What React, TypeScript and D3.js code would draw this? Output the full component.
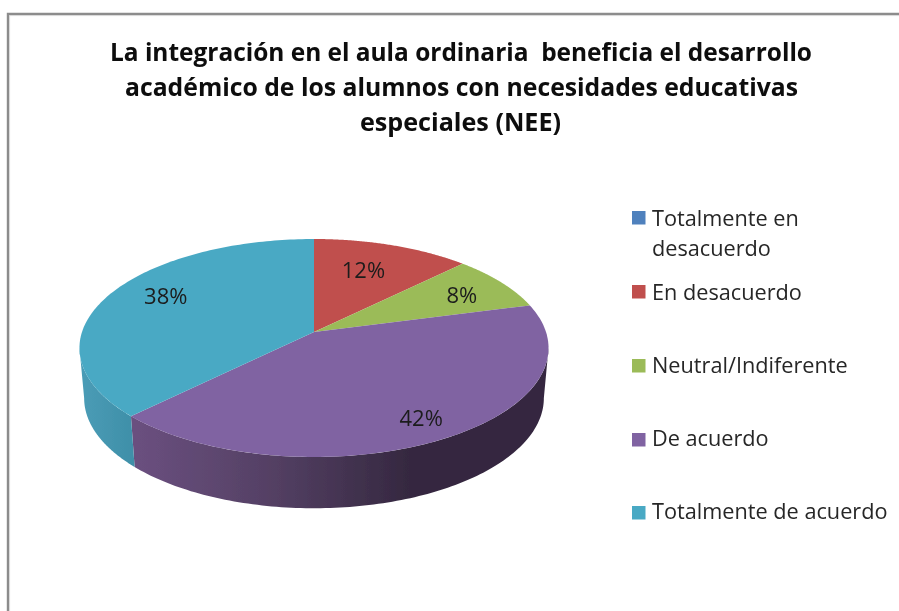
import React from "react";
import * as d3 from "d3";

const categories = ["Totalmente en desacuerdo", "En desacuerdo", "Neutral/Indiferente", "De acuerdo", "Totalmente de acuerdo"];
const responses = [0, 3, 2, 10, 9];
const percentLabels = ["", "12%", "8%", "42%", "38%"];
const colors = ["#4f81bd", "#c0504d", "#9bbb59", "#8064a2", "#4aa9c4"];
const titleLines = [
  "La integración en el aula ordinaria  beneficia el desarrollo",
  "académico de los alumnos con necesidades educativas",
  "especiales (NEE)",
];
const legendLines = [["Totalmente en", "desacuerdo"], ["En desacuerdo"], ["Neutral/Indiferente"], ["De acuerdo"], ["Totalmente de acuerdo"]];

// layout
const W = 899, H = 611;
const cx = 314, cy = 332, k = -0.1468, a = 232, b = 106.65;
const wallDy = 50, wallSx = 0.98, wallSy = 1.01;
const labelRadius = 0.75;
const labelNudge: [number, number][] = [[0, 0], [-11, 5], [5, 1], [11, 10], [6, -7]];
const titleSpans = [[110, 812], [125, 798], [360, 561]];
const titleBase = [61, 96, 131];
const legendBase = [226, 300, 373, 446, 519];
const legendSwatch = [211, 285, 359, 433, 506];

const project = (theta: number, r = 1, sx = 1, sy = 1, dy = 0): [number, number] => {
  const u = r * Math.sin(theta), v = -r * Math.cos(theta);
  const w = 1 + k * v;
  return [cx + (sx * a * u) / w, cy + dy + (sy * b * v) / w];
};

const thetas = (s: number, e: number) => d3.range(0, 121).map((i) => s + ((e - s) * i) / 120);

// The angles at which the disc's outline is vertical: only the wall between them faces the viewer.
const silhouetteStart = Math.acos(k);
const silhouetteEnd = 2 * Math.PI - silhouetteStart;

export default function App() {
  const pie = d3.pie<number>().sort(null).value((d) => d);
  const arcs = pie(responses);
  const line = d3.line();

  const top = (s: number, e: number) =>
    line([[cx, cy], ...thetas(s, e).map((t) => project(t))])! + "Z";
  const wall = (s0: number, e0: number) => {
    const s = Math.max(s0, silhouetteStart), e = Math.min(e0, silhouetteEnd);
    if (e <= s) return null;
    return (
      line([
        ...thetas(s, e).map((t) => project(t)),
        ...thetas(s, e).reverse().map((t) => project(t, 1, wallSx, wallSy, wallDy)),
      ])! + "Z"
    );
  };

  return (
    <svg width={W} height={H} style={{ position: "absolute", left: 0, top: 0, background: "#fff" }}>
      <defs>
        <linearGradient id="wall3" gradientUnits="userSpaceOnUse" x1={131} x2={410} y1={0} y2={0}>
          <stop offset="0" stopColor="#6b5080" />
          <stop offset="0.5" stopColor="#544064" />
          <stop offset="1" stopColor="#352840" />
        </linearGradient>
        <linearGradient id="wall4" gradientUnits="userSpaceOnUse" x1={82} x2={134} y1={0} y2={0}>
          <stop offset="0" stopColor="#4a9cb6" />
          <stop offset="1" stopColor="#3f8fa8" />
        </linearGradient>
        <filter id="soft" x="-5%" y="-5%" width="110%" height="110%">
          <feGaussianBlur stdDeviation={0.45} />
        </filter>
      </defs>
      <path d={`M8,${H}V14H${W}`} fill="none" stroke="#8c8c8c" strokeWidth={2.4} />
      <path d={`M9.6,${H}V15.6H${W}`} fill="none" stroke="#d4d4d4" strokeWidth={0.8} />

      <g filter="url(#soft)">
        {titleLines.map((t, i) => (
          <text
            key={t}
            x={titleSpans[i][0]}
            y={titleBase[i]}
            textLength={titleSpans[i][1] - titleSpans[i][0]}
            lengthAdjust="spacingAndGlyphs"
            fontFamily="'Open Sans', sans-serif"
            fontWeight={700}
            fontSize={25}
            fill="#0a0a0a"
            style={{ whiteSpace: "pre" }}
          >
            {t}
          </text>
        ))}

        {arcs.map((d, i) => {
          const path = d.value > 0 && i >= 3 ? wall(d.startAngle, d.endAngle) : null;
          return path ? <path key={i} d={path} fill={`url(#wall${i})`} /> : null;
        })}
        {arcs.map((d, i) =>
          d.value > 0 ? <path key={i} d={top(d.startAngle, d.endAngle)} fill={colors[i]} /> : null
        )}
        {arcs.map((d, i) => {
          if (d.value === 0) return null;
          const [x, y] = project((d.startAngle + d.endAngle) / 2, labelRadius);
          return (
            <text
              key={i}
              x={x + labelNudge[i][0]}
              y={y + labelNudge[i][1]}
              dy="0.36em"
              textAnchor="middle"
              fontFamily="'Open Sans', sans-serif"
              fontSize={22}
              fill="#1c1c1c"
            >
              {percentLabels[i]}
            </text>
          );
        })}

        {categories.map((c, i) => (
          <g key={c}>
            <rect x={632} y={legendSwatch[i]} width={13.5} height={13.5} fill={colors[i]} />
            {legendLines[i].map((l, j) => (
              <text key={l} x={652} y={legendBase[i] + j * 30} fontFamily="'Open Sans', sans-serif" fontSize={21.7} fill="#262626">
                {l}
              </text>
            ))}
          </g>
        ))}
      </g>
    </svg>
  );
}
